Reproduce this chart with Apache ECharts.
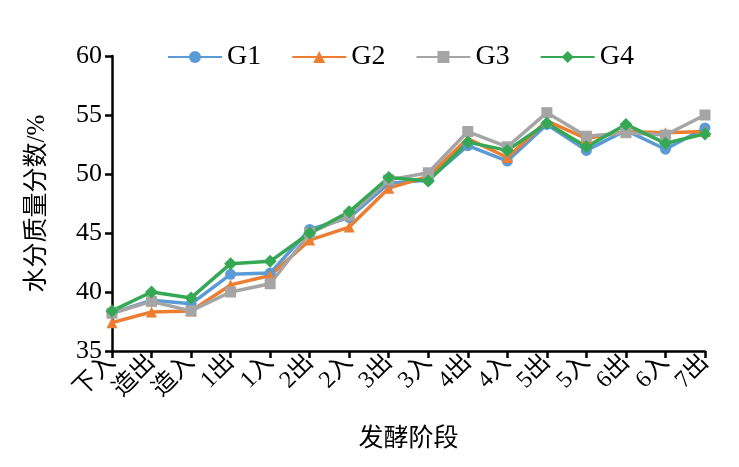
<!DOCTYPE html>
<html>
<head>
<meta charset="utf-8">
<style>
  html, body { margin: 0; padding: 0; background: #fff; }
  #chart { width: 739px; height: 467px; }
</style>
<script src="https://cdn.jsdelivr.net/npm/echarts@6/dist/echarts.min.js"></script>
</head>
<body>
<div id="chart"></div>
<script>
// 发酵阶段
var stages = ['下入', '造出', '造入', '1出', '1入', '2出', '2入', '3出', '3入', '4出', '4入', '5出', '5入', '6出', '6入', '7出'];
var g1 = [38.2, 39.3, 39.0, 41.5, 41.6, 45.3, 46.3, 49.2, 49.5, 52.4, 51.1, 54.2, 52.0, 53.7, 52.1, 53.9];
var g2 = [37.4, 38.3, 38.4, 40.6, 41.4, 44.4, 45.5, 48.8, 49.8, 53.0, 51.4, 54.5, 53.0, 53.6, 53.5, 53.6];
var g3 = [38.2, 39.2, 38.4, 40.0, 40.7, 45.0, 46.5, 49.5, 50.1, 53.6, 52.3, 55.2, 53.2, 53.5, 53.3, 55.0];
var g4 = [38.4, 40.0, 39.5, 42.4, 42.6, 45.0, 46.8, 49.7, 49.4, 52.7, 52.0, 54.3, 52.3, 54.2, 52.6, 53.4];
var names = ['G1', 'G2', 'G3', 'G4'];
var colors = ['#5B9BD5', '#ED7D31', '#A5A5A5', '#34A853'];
var symbols = ['circle', 'triangle', 'rect', 'diamond'];

var font = '"Liberation Serif", "Times New Roman", "Noto Sans CJK SC", serif';
var chart = echarts.init(document.getElementById('chart'));

function mk(i, data) {
  return {
    name: names[i],
    type: 'line',
    data: data,
    symbol: symbols[i],
    symbolSize: symbols[i] === 'diamond' ? 13 : 11,
    lineStyle: { color: colors[i], width: 3.5 },
    itemStyle: { color: colors[i] }
  };
}

chart.setOption({
  animation: false,
  color: colors,
  textStyle: { fontFamily: font },
  legend: {
    top: 38,
    left: 162,
    itemWidth: 54,
    itemHeight: 15,
    itemGap: 30,
    textStyle: { fontSize: 28, color: '#000', fontFamily: font },
    data: names
  },
  grid: { left: 112, right: 34, top: 56, bottom: 116, containLabel: false },
  xAxis: {
    type: 'category',
    data: stages,
    boundaryGap: false,
    name: '发酵阶段',
    nameLocation: 'middle',
    nameGap: 76,
    nameTextStyle: { fontSize: 25, color: '#000', fontFamily: font },
    axisLine: { lineStyle: { color: '#000', width: 2.5 } },
    axisTick: { show: true, length: 7, lineStyle: { color: '#000', width: 2.5 } },
    axisLabel: { rotate: 45, fontSize: 24, color: '#000', margin: 8, interval: 0, fontFamily: font }
  },
  yAxis: {
    type: 'value',
    min: 35,
    max: 60,
    interval: 5,
    name: '水分质量分数/%',
    nameLocation: 'middle',
    nameGap: 62,
    nameTextStyle: { fontSize: 25, color: '#000', fontFamily: font },
    axisLine: { show: true, lineStyle: { color: '#000', width: 2.5 } },
    axisTick: { show: true, length: 7, lineStyle: { color: '#000', width: 2.5 } },
    axisLabel: { fontSize: 26, color: '#000', margin: 10, fontFamily: font },
    splitLine: { show: false }
  },
  series: [mk(0, g1), mk(1, g2), mk(2, g3), mk(3, g4)]
});
</script>
</body>
</html>
